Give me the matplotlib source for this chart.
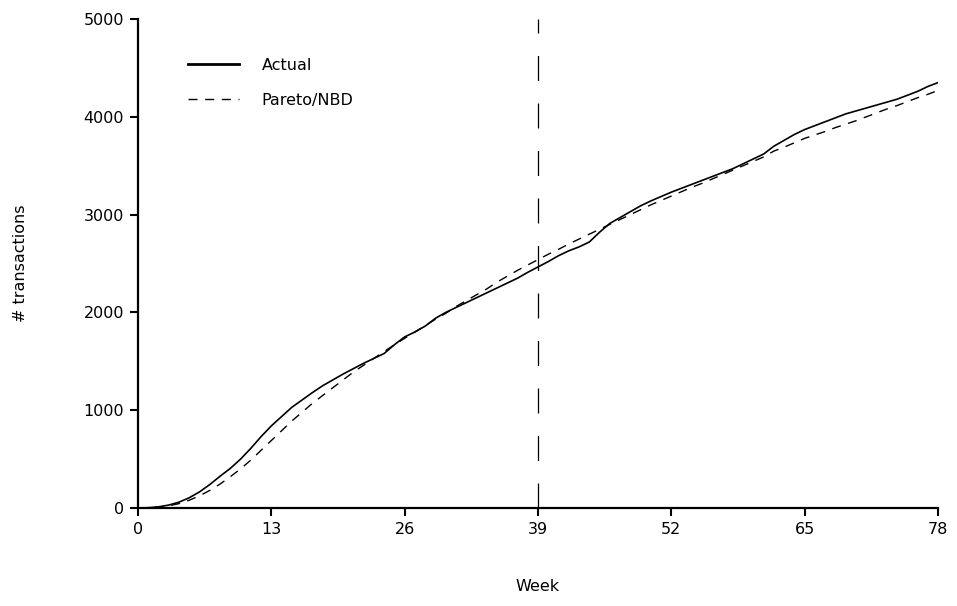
import matplotlib
matplotlib.use("Agg")
import matplotlib.pyplot as plt

# cumulative repeat transactions
weeks = list(range(79))
actual = [
    0, 3, 12, 30, 60, 105, 165, 240, 325, 405,
    500, 610, 730, 840, 935, 1030, 1105, 1180, 1250, 1310,
    1370, 1425, 1480, 1530, 1580, 1670, 1750, 1800, 1860, 1940,
    2000, 2050, 2100, 2150, 2200, 2250, 2300, 2350, 2410, 2465,
    2520, 2580, 2630, 2670, 2720, 2820, 2910, 2970, 3030, 3090,
    3140, 3185, 3230, 3270, 3310, 3350, 3390, 3430, 3470, 3520,
    3570, 3620, 3700, 3760, 3820, 3870, 3910, 3950, 3990, 4030,
    4060, 4090, 4120, 4150, 4180, 4220, 4260, 4310, 4350,
]
pareto_nbd = [
    0, 2, 8, 22, 45, 80, 125, 180, 245, 320,
    400, 490, 590, 690, 790, 890, 980, 1070, 1150, 1230,
    1310, 1390, 1460, 1530, 1600, 1670, 1735, 1800, 1865, 1930,
    1990, 2060, 2120, 2180, 2240, 2310, 2370, 2430, 2485, 2540,
    2595, 2645, 2700, 2750, 2800, 2850, 2900, 2950, 3000, 3050,
    3100, 3145, 3190, 3235, 3280, 3320, 3365, 3410, 3455, 3500,
    3545, 3590, 3650, 3690, 3735, 3780, 3815, 3850, 3890, 3925,
    3960, 4000, 4040, 4080, 4115, 4155, 4195, 4230, 4270,
]
calibration_end = 39
xticks = [0, 13, 26, 39, 52, 65, 78]
yticks = [0, 1000, 2000, 3000, 4000, 5000]

plt.rcParams["font.family"] = ["DejaVu Sans"]
plt.rcParams["font.size"] = 11.5

fig = plt.figure(figsize=(9.57, 6.06), dpi=100)
ax = fig.add_axes([0.1442, 0.1617, 0.8360, 0.8069])

ax.plot(weeks, actual, color="black", lw=1.2, label="Actual")
ax.plot(weeks, pareto_nbd, color="black", lw=1.0, ls=(0, (6.5, 5.5)), label="Pareto/NBD")
ax.plot([calibration_end, calibration_end], [0, 5000], color="black", lw=0.9,
        ls=(0, (20, 18)))

ax.set_xlim(0, 78)
ax.set_ylim(0, 5000)
ax.set_xticks(xticks)
ax.set_yticks(yticks)
for s in ("top", "right"):
    ax.spines[s].set_visible(False)
for s in ("left", "bottom"):
    ax.spines[s].set_linewidth(1.6)
ax.tick_params(direction="out", length=6, width=1.5, pad=4)

ax.set_xlabel("Week", labelpad=30)
ax.set_ylabel("# transactions", labelpad=40)

leg = ax.legend(loc="upper left", bbox_to_anchor=(0.045, 0.95), frameon=False,
                handlelength=3.2, handletextpad=1.4, labelspacing=1.25)
leg.get_lines()[0].set_linewidth(2.0)

fig.savefig("out.png", dpi=100)
